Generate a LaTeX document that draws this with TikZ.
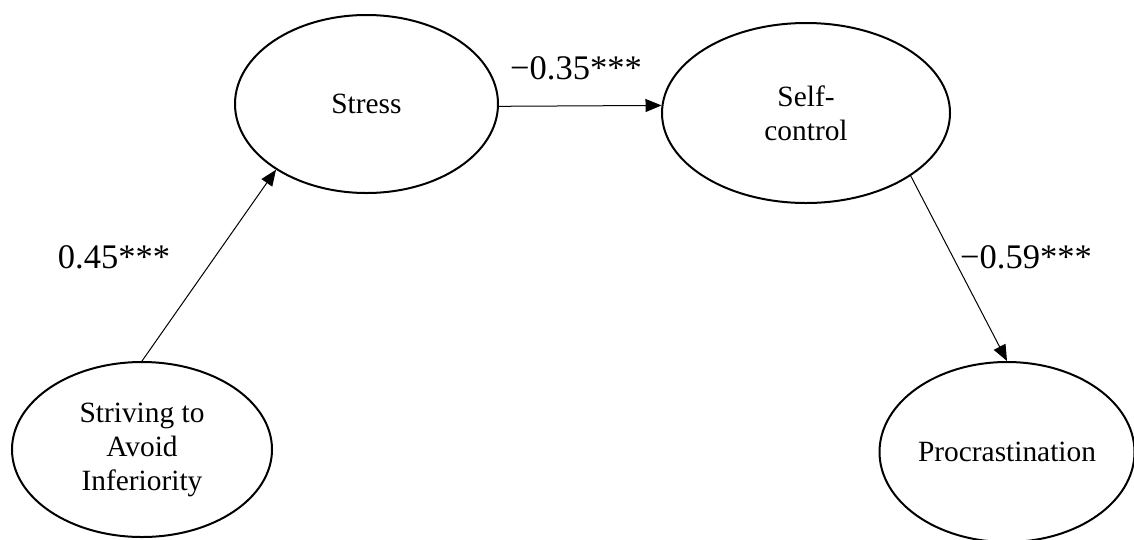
\documentclass[tikz,border=0pt]{standalone}
\usepackage{fontspec}
\setmainfont{Liberation Serif}
\usetikzlibrary{arrows.meta,shapes.geometric}
\begin{document}
\begin{tikzpicture}[x=1pt,y=-1pt,
  latent/.style={draw,ellipse,line width=2pt,inner sep=0pt,align=center,
    font=\fontsize{29.4}{34}\selectfont},
  arr/.style={line width=1pt,-{Triangle[length=16pt,width=13pt]}},
  coef/.style={font=\fontsize{34.5}{40}\selectfont,inner sep=0pt}]
\useasboundingbox (0,0) rectangle (1134,539);
\node[latent,minimum width=263pt,minimum height=178pt] (stress) at (366.5,104) {Stress};
\node[latent,minimum width=288pt,minimum height=180pt] (self) at (806,113) {Self-\\control};
\node[latent,minimum width=260pt,minimum height=175pt] (striv) at (142,449.5) {Striving to\\Avoid\\Inferiority};
\node[latent,minimum width=255pt,minimum height=180pt] (proc) at (1007,452) {Procrastination};
\draw[arr] (striv.north) -- (stress.216);
\draw[arr] (stress.-1.3) -- (self.177.6);
\draw[arr] (self.-31) -- (proc.north);
\node[coef] (l1) at (114,257) {0.45***};
\node[coef] (l2) at (576,68) {−0.35***};
\node[coef] (l3) at (1026,257) {−0.59***};
\end{tikzpicture}
\end{document}
